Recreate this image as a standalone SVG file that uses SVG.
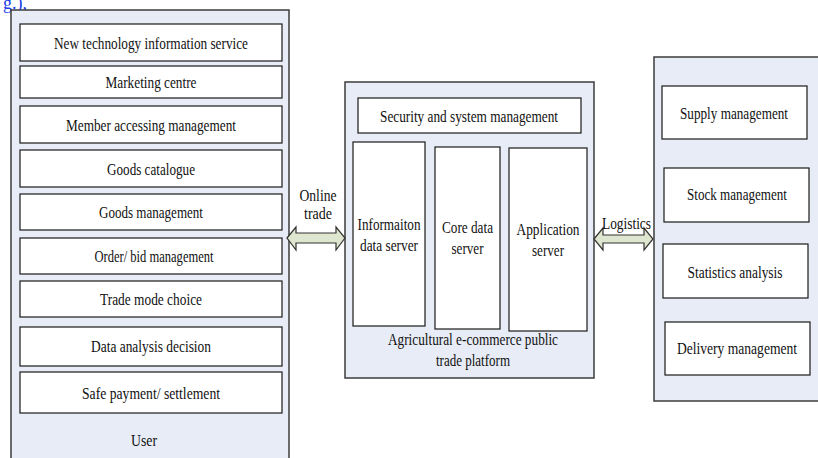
<svg xmlns="http://www.w3.org/2000/svg" width="818" height="458" viewBox="0 0 818 458">
<style>
.panel{fill:#e7ecf6;stroke:#3c3c3c;stroke-width:1.5}
.box{fill:#ffffff;stroke:#1a1a1a;stroke-width:1.2}
.t{font-family:"Liberation Serif","Times New Roman",serif;font-size:17.5px;fill:#111;text-anchor:middle;dominant-baseline:central}
.s{font-size:16px}
.arrow{fill:#dfe6cf;stroke:#333;stroke-width:1.2;stroke-linejoin:miter}
.cap{font-family:"Liberation Serif","Times New Roman",serif;font-size:18px;fill:#2040e8}
</style>
<text class="cap" x="3" y="9">g.),</text>
<g id="user-panel">
<rect class="panel" x="11" y="10" width="278" height="455"/>
<text class="t" x="144" y="440" textLength="26" lengthAdjust="spacingAndGlyphs">User</text>
</g>
<g id="n1"><rect class="box" x="20" y="24" width="262" height="37"/><text class="t" x="151" y="42.5" textLength="194" lengthAdjust="spacingAndGlyphs">New technology information service</text></g>
<g id="n2"><rect class="box" x="20" y="66" width="262" height="32"/><text class="t" x="151" y="82" textLength="91" lengthAdjust="spacingAndGlyphs">Marketing centre</text></g>
<g id="n3"><rect class="box" x="20" y="106" width="262" height="37"/><text class="t" x="151" y="124.5" textLength="170" lengthAdjust="spacingAndGlyphs">Member accessing management</text></g>
<g id="n4"><rect class="box" x="20" y="150" width="262" height="37"/><text class="t" x="151" y="168.5" textLength="88" lengthAdjust="spacingAndGlyphs">Goods catalogue</text></g>
<g id="n5"><rect class="box" x="20" y="194" width="262" height="36"/><text class="t" x="151" y="212" textLength="104" lengthAdjust="spacingAndGlyphs">Goods management</text></g>
<g id="n6"><rect class="box" x="20" y="238" width="262" height="36"/><text class="t" x="154" y="256" textLength="119" lengthAdjust="spacingAndGlyphs">Order/ bid management</text></g>
<g id="n7"><rect class="box" x="20" y="281" width="262" height="36"/><text class="t" x="151" y="299" textLength="102" lengthAdjust="spacingAndGlyphs">Trade mode choice</text></g>
<g id="n8"><rect class="box" x="20" y="327" width="262" height="39"/><text class="t" x="151" y="346" textLength="120" lengthAdjust="spacingAndGlyphs">Data analysis decision</text></g>
<g id="n9"><rect class="box" x="20" y="372" width="262" height="41"/><text class="t" x="151" y="392.5" textLength="138" lengthAdjust="spacingAndGlyphs">Safe payment/ settlement</text></g>

<g id="platform-panel">
<rect class="panel" x="345" y="82" width="249" height="296"/>
<text class="t" x="473" y="339" textLength="170" lengthAdjust="spacingAndGlyphs">Agricultural e-commerce public</text>
<text class="t" x="473" y="360" textLength="74" lengthAdjust="spacingAndGlyphs">trade platform</text>
</g>
<g id="security"><rect class="box" x="358" y="98" width="223" height="35"/><text class="t" x="469" y="115.5" textLength="178" lengthAdjust="spacingAndGlyphs">Security and system management</text></g>
<g id="info-server"><rect class="box" x="353" y="142" width="72" height="184"/>
<text class="t" x="389" y="224" textLength="63" lengthAdjust="spacingAndGlyphs">Informaiton</text>
<text class="t" x="389" y="245" textLength="58" lengthAdjust="spacingAndGlyphs">data server</text></g>
<g id="core-server"><rect class="box" x="435" y="147" width="65" height="182"/>
<text class="t" x="467.5" y="227" textLength="51" lengthAdjust="spacingAndGlyphs">Core data</text>
<text class="t" x="467.5" y="248" textLength="32" lengthAdjust="spacingAndGlyphs">server</text></g>
<g id="app-server"><rect class="box" x="509" y="148" width="78" height="183"/>
<text class="t" x="548" y="229" textLength="63" lengthAdjust="spacingAndGlyphs">Application</text>
<text class="t" x="548" y="250" textLength="32" lengthAdjust="spacingAndGlyphs">server</text></g>

<g id="logistics-panel">
<rect class="panel" x="654" y="57" width="170" height="344"/>
</g>
<g id="supply"><rect class="box" x="662" y="86" width="145" height="53"/><text class="t" x="734" y="113" textLength="108" lengthAdjust="spacingAndGlyphs">Supply management</text></g>
<g id="stock"><rect class="box" x="664" y="168" width="145" height="54"/><text class="t" x="737" y="194" textLength="100" lengthAdjust="spacingAndGlyphs">Stock management</text></g>
<g id="statistics"><rect class="box" x="663" y="244" width="145" height="54"/><text class="t" x="735" y="272" textLength="95" lengthAdjust="spacingAndGlyphs">Statistics analysis</text></g>
<g id="delivery"><rect class="box" x="665" y="322" width="145" height="53"/><text class="t" x="737" y="348" textLength="120" lengthAdjust="spacingAndGlyphs">Delivery management</text></g>

<g id="connectors">
<polygon class="arrow" points="287,238 296,227 296,233 336,233 336,227 345,238 336,250 336,243 296,243 296,250"/>
<text class="t s" x="318" y="195" textLength="37" lengthAdjust="spacingAndGlyphs">Online</text>
<text class="t s" x="318" y="213" textLength="28" lengthAdjust="spacingAndGlyphs">trade</text>
<polygon class="arrow" points="594,239 603,228 603,235 644,235 644,228 653,239 644,250 644,243 603,243 603,250"/>
<text class="t" x="626.5" y="223" textLength="49" lengthAdjust="spacingAndGlyphs">Logistics</text>
</g>
</svg>
